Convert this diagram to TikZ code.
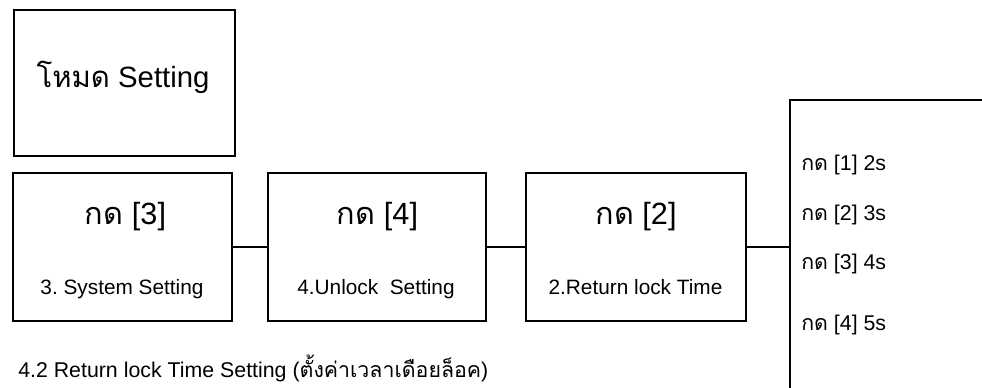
\documentclass[tikz,border=0pt]{standalone}
\usepackage{fontspec}
\setmainfont{Liberation Sans}
\newfontfamily\thaifont[Script=Thai]{Loma}
\frenchspacing
\begin{document}
\begin{tikzpicture}[x=0.75pt,y=-0.75pt,
  box/.style={draw,line width=2pt,minimum width=#1*0.75pt,minimum height=148*0.75pt,inner sep=0pt},
  conn/.style={line width=2pt},
  headtext/.style={anchor=base,inner sep=0pt,font=\fontsize{23}{26}\selectfont},
  captext/.style={anchor=base,inner sep=0pt,font=\fontsize{15.6}{18}\selectfont},
  itemtext/.style={anchor=base west,inner sep=0pt,font=\fontsize{16}{18}\selectfont}]
\useasboundingbox (0,0) rectangle (982,388);
\clip (0,0) rectangle (982,388);
% top box
\node[box=221,minimum height=146*0.75pt] (top) at (124.5,83) {};
\node[anchor=base,inner sep=0pt,font=\fontsize{22}{24}\selectfont] (toptext) at (123,88) {{\thaifont โหมด} Setting};
% row boxes
\node[box=219] (b1) at (122.5,247) {};
\node[box=218] (b2) at (377,247) {};
\node[box=220] (b3) at (636,247) {};
\node[headtext] (h1) at (125.5,225) {{\thaifont กด} [3]};
\node[headtext] (h2) at (377.5,225) {{\thaifont กด} [4]};
\node[headtext] (h3) at (636,225) {{\thaifont กด} [2]};
\node[captext] (c1) at (122,295) {3. System Setting};
\node[captext] (c2) at (376,295) {4.Unlock\ \ Setting};
\node[captext] (c3) at (635.5,295) {2.Return lock Time};
% right box (partly outside)
\node[box=210,minimum height=294*0.75pt] (rb) at (895,247) {};
\node[itemtext] (i1) at (801,171) {{\thaifont กด} [1] 2s};
\node[itemtext] (i2) at (801,221) {{\thaifont กด} [2] 3s};
\node[itemtext] (i3) at (801,270) {{\thaifont กด} [3] 4s};
\node[itemtext] (i4) at (801,331) {{\thaifont กด} [4] 5s};
% connectors
\draw[conn] (b1.east) -- (b2.west);
\draw[conn] (b2.east) -- (b3.west);
\draw[conn] (b3.east) -- (rb.west);
% bottom caption
\node[anchor=base west,inner sep=0pt,font=\fontsize{16}{18}\selectfont] (title) at (18,378) {4.2 Return lock Time Setting ({\thaifont ตั้งค่าเวลาเดือยล็อค})};
\end{tikzpicture}
\end{document}
